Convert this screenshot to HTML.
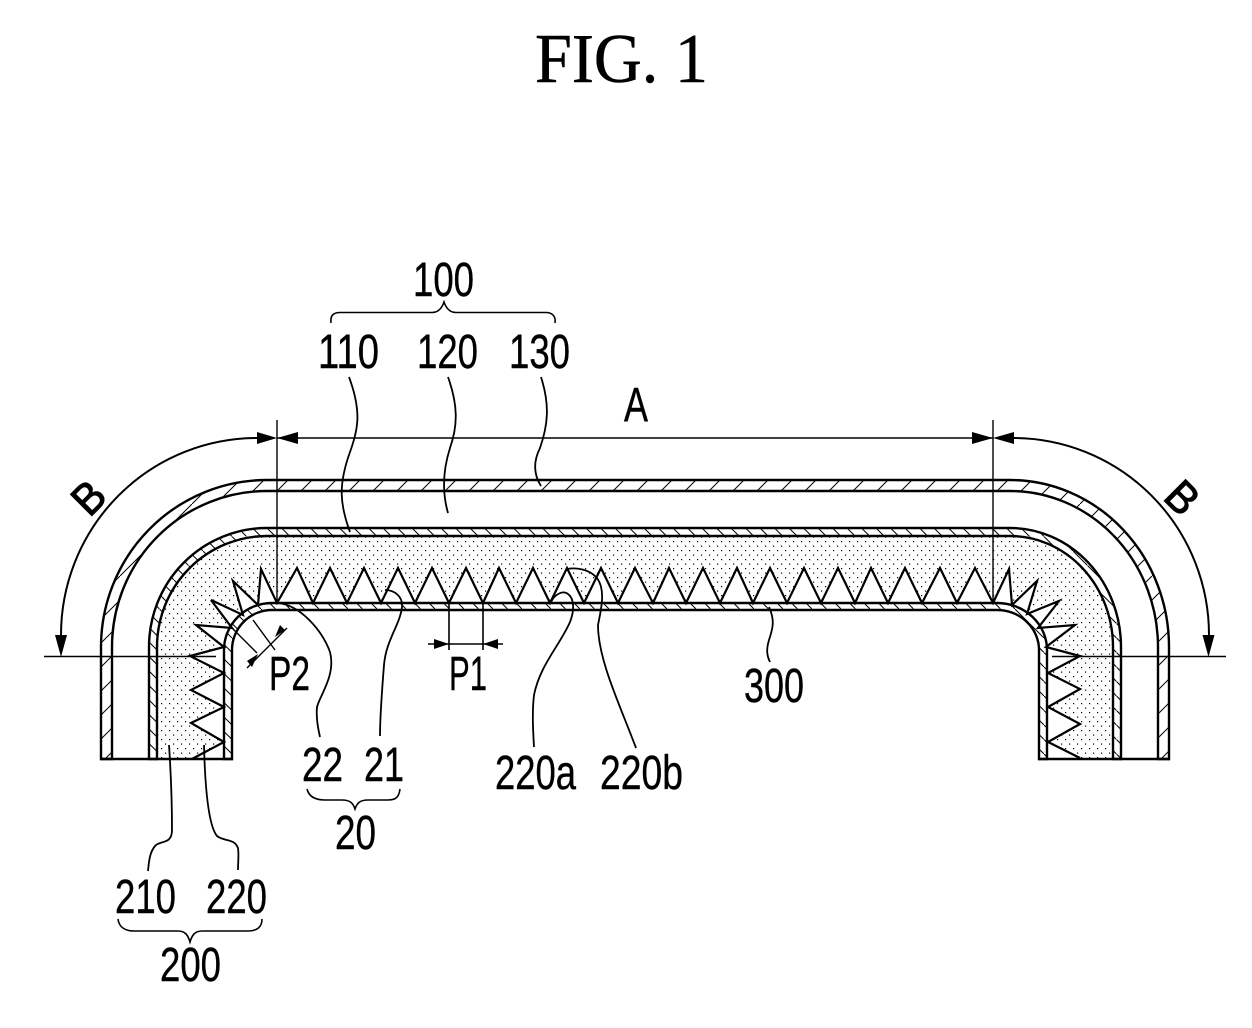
<!DOCTYPE html>
<html><head><meta charset="utf-8"><style>
html,body{margin:0;padding:0;background:#fff}
svg{display:block}
text{font-family:"Liberation Sans",sans-serif;font-size:48px;fill:#000;stroke:#000;stroke-width:.4}
</style></head><body>
<svg width="1252" height="1028" viewBox="0 0 1252 1028" xmlns="http://www.w3.org/2000/svg">
<defs>
<pattern id="hf" patternUnits="userSpaceOnUse" width="24" height="24"><path d="M-1,25 L25,-1" stroke="#000" stroke-width="1"/></pattern>
<pattern id="hb" patternUnits="userSpaceOnUse" width="14.5" height="14.5"><path d="M-1,-1 L15.5,15.5" stroke="#000" stroke-width="1"/></pattern>
<pattern id="dots" patternUnits="userSpaceOnUse" width="8" height="9"><rect x="1" y="1" width="1.2" height="1.2" fill="#000"/><rect x="5" y="5.5" width="1.2" height="1.2" fill="#000"/></pattern>
</defs>

<text x="535" y="82" textLength="173" lengthAdjust="spacingAndGlyphs" style="font-family:'Liberation Serif',serif;font-size:70px;stroke-width:.5">FIG. 1</text>

<!-- stipple fill 210 -->
<path fill="url(#dots)" d="M157,759 V647 A110,111 0 0 1 267,536 H1010 A103,111 0 0 1 1113,647 V759 H1080 L1048,742 L1080,724 L1048,707 L1080,689 L1048,673 L1080,656 L1046,647 L1075,625 L1038,628 L1059,601 L1027,614 L1037,581 L1012,605 L1009,569 L993,603 L975,568 L957,603 L940,568 L922,603 L905,568 L888,603 L871,568 L855,603 L838,568 L821,603 L804,568 L787,603 L770,568 L753,603 L737,568 L720,603 L703,568 L686,603 L669,568 L653,603 L635,568 L618,603 L601,568 L584,603 L567,568 L550,603 L533,568 L516,603 L499,568 L483,603 L466,568 L449,603 L432,568 L415,603 L398,568 L381,603 L364,568 L347,603 L330,568 L313,603 L297,568 L277,603 L261,569 L258,605 L233,581 L243,615 L211,600 L232,628 L196,625 L224,647 L190,656 L224,673 L191,690 L224,707 L191,723 L224,742 L192,759 Z"/>

<!-- layer 130 -->
<path fill="url(#hf)" stroke="#000" stroke-width="2.4" d="M101,759 V647 A166,167 0 0 1 267,480 H1010 A159,167 0 0 1 1169,647 V759 H1158 V647 A148,156 0 0 0 1010,491 H267 A155,156 0 0 0 112,647 V759 Z"/>
<!-- layer 110 -->
<path fill="url(#hb)" stroke="#000" stroke-width="2.4" d="M149,759 V647 A118,119 0 0 1 267,528 H1010 A111,119 0 0 1 1121,647 V759 H1113 V647 A103,111 0 0 0 1010,536 H267 A110,111 0 0 0 157,647 V759 Z"/>
<!-- layer 300 -->
<path fill="url(#hb)" stroke="#000" stroke-width="2.4" d="M232,759 V650 A40,40 0 0 1 272,610 H997 A42,40 0 0 1 1039,650 V759 H1047 V650 A50,47 0 0 0 997,603 H272 A48,47 0 0 0 224,650 V759 Z"/>
<!-- bottom -->
<path fill="none" stroke="#000" stroke-width="2.6" d="M100,759 H233 M1038,759 H1170"/>

<!-- teeth -->
<path fill="none" stroke="#000" stroke-width="2.2" stroke-linejoin="miter" d="M192,759 L224,742 L191,723 L224,707 L191,690 L224,673 L190,656 L224,647 L196,625 L232,628 L211,600 L243,615 L233,581 L258,605 L261,569 L277,603 L297,568 L313,603 L330,568 L347,603 L364,568 L381,603 L398,568 L415,603 L432,568 L449,603 L466,568 L483,603 L499,568 L516,603 L533,568 L550,603 L567,568 L584,603 L601,568 L618,603 L635,568 L653,603 L669,568 L686,603 L703,568 L720,603 L737,568 L753,603 L770,568 L787,603 L804,568 L821,603 L838,568 L855,603 L871,568 L888,603 L905,568 L922,603 L940,568 L957,603 L975,568 L993,603 L1009,569 L1012,605 L1037,581 L1027,614 L1059,601 L1038,628 L1075,625 L1046,647 L1080,656 L1048,673 L1080,689 L1048,707 L1080,724 L1048,742 L1080,758"/>

<!-- dimension lines -->
<g fill="none" stroke="#000" stroke-width="1.4">
<path d="M277,420 V603 M993,420 V603 M277,438 H993 M44,656.5 H216 M1052,656.5 H1226"/>
<path stroke-width="2" d="M257,438 A196,197 0 0 0 61,635 M1013,438 A196,197 0 0 1 1209,635"/>
<path d="M449,603 V650 M483,603 V650 M428,644 H503" stroke-width="1.6"/>
<path d="M232,628 L257,653 M253,620 L275,650 M247,668 L287,628" stroke-width="1.4"/>
</g>
<g fill="#000">
<path d="M277,438 L257,432 V444 Z M277,438 L298,432 V444 Z M993,438 L972,432 V444 Z M993,438 L1014,432 V444 Z"/>
<path d="M61,657 L55,635 H67 Z M1208.500,657 L1202.500,635 H1214.500 Z"/>
<path d="M449,644 L434,639 V649 Z M483,644 L498,639 V649 Z"/>
<path d="M258,654 L247,661 L252,667 Z M275,637 L285,630 L280,625 Z"/>
</g>

<!-- leaders -->
<g fill="none" stroke="#000" stroke-width="1.8">
<path d="M349,377 C362,412 358,430 350,452 C338,485 340,505 350,532"/>
<path d="M448,377 C458,405 458,425 450,448 C443,470 442,492 448,513"/>
<path d="M541,377 C550,405 548,425 540,448 C533,462 534,475 541,486"/>
<path d="M278,603 C300,605 322,630 330,652 C336,675 320,695 317,707 C316,718 318,728 320,737"/>
<path d="M385,590 C395,590 403,597 402,607 C400,625 386,640 384,665 C382,690 380,715 380,736"/>
<path d="M551,602 C555,594 563,590 568,594 C575,599 574,612 570,622 C560,645 540,665 534,695 C532,712 533,730 534,747"/>
<path d="M567,569 C578,567 590,570 597,578 C606,590 601,610 598,625 C598,660 620,705 636,748"/>
<path d="M769,607 C775,620 773,628 769,640 C766,650 767,656 770,662"/>
<path d="M169,745 C171,775 172,805 172,830 C172,845 160,840 155,846 C150,852 149,860 148,871"/>
<path d="M204,745 C205,785 208,825 217,836 C225,842 234,838 238,848 C239,855 238,862 238,870"/>
<path stroke-width="1.6" d="M331,323 C330,315 334,312.500 340,312.500 H432 C438,312.500 442,308 444,302 C446,308 450,312.500 456,312.500 H546 C552,312.500 556,316 555,323"/>
<path stroke-width="1.6" d="M307,789 C309,797 316,800 325,800 H342 C350,800 353,803 355,809 C357,803 360,800 368,800 H388 C396,800 399,797 400,789"/>
<path stroke-width="1.6" d="M118,919 C119,927 125,931 134,931 H178 C185,931 188,935 190,942 C192,935 195,931 202,931 H248 C257,931 262,927 262,919"/>
</g>

<!-- labels -->
<text x="413" y="296" textLength="61" lengthAdjust="spacingAndGlyphs">100</text>
<text x="318" y="368" textLength="61" lengthAdjust="spacingAndGlyphs">110</text>
<text x="417" y="368" textLength="61" lengthAdjust="spacingAndGlyphs">120</text>
<text x="509" y="368" textLength="61" lengthAdjust="spacingAndGlyphs">130</text>
<text x="624" y="421" textLength="24" lengthAdjust="spacingAndGlyphs">A</text>
<text x="449" y="690" textLength="38" lengthAdjust="spacingAndGlyphs">P1</text>
<text x="269" y="690" textLength="41" lengthAdjust="spacingAndGlyphs">P2</text>
<text x="744" y="702" textLength="60" lengthAdjust="spacingAndGlyphs">300</text>
<text x="495" y="789" textLength="81" lengthAdjust="spacingAndGlyphs">220a</text>
<text x="600" y="789" textLength="83" lengthAdjust="spacingAndGlyphs">220b</text>
<text x="302" y="781" textLength="41" lengthAdjust="spacingAndGlyphs">22</text>
<text x="364" y="781" textLength="40" lengthAdjust="spacingAndGlyphs">21</text>
<text x="335" y="849" textLength="41" lengthAdjust="spacingAndGlyphs">20</text>
<text x="115" y="913" textLength="61" lengthAdjust="spacingAndGlyphs">210</text>
<text x="206" y="913" textLength="61" lengthAdjust="spacingAndGlyphs">220</text>
<text x="160" y="981" textLength="61" lengthAdjust="spacingAndGlyphs">200</text>
<text transform="translate(88,497) rotate(-45)" x="-14" y="16" textLength="28" lengthAdjust="spacingAndGlyphs" style="font-size:44px;stroke-width:1">B</text>
<text transform="translate(1183,497) rotate(45)" x="-14" y="16" textLength="28" lengthAdjust="spacingAndGlyphs" style="font-size:44px;stroke-width:1">B</text>
</svg>
</body></html>
